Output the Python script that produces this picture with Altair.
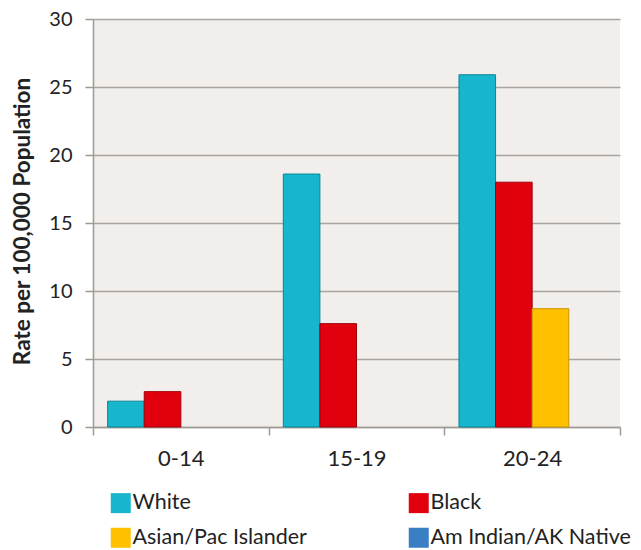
import altair as alt
import pandas as pd

groups = ["0-14", "15-19", "20-24"]
series = ["White", "Black", "Asian/Pac Islander", "Am Indian/AK Native"]
white = [1.9, 18.6, 25.9]
black = [2.6, 7.6, 18.0]
asian = [None, None, 8.7]
amind = [None, None, None]
y_ticks = [0, 5, 10, 15, 20, 25, 30]

colors = {"White": "#17b6cd", "Black": "#e0000e",
          "Asian/Pac Islander": "#ffc000", "Am Indian/AK Native": "#3a7ec4"}
strokes = {"White": "#0b8596", "Black": "#a0000a",
           "Asian/Pac Islander": "#c99500", "Am Indian/AK Native": "#245a95"}
# legend is filled column by column: this order gives rows White|Black, Asian|Am Indian
legend_order = ["White", "Asian/Pac Islander", "Black", "Am Indian/AK Native"]

rows = []
for s, vals in zip(series, [white, black, asian, amind]):
    for g, v in zip(groups, vals):
        if v is not None:
            rows.append({"group": g, "series": s, "rate": v})
df = pd.DataFrame(rows)

FONT = "Lato"
chart = alt.Chart(df).mark_bar(strokeWidth=1).encode(
    x=alt.X("group:N", sort=groups,
            scale=alt.Scale(domain=groups, paddingInner=0, paddingOuter=0),
            axis=alt.Axis(title=None, labelAngle=0, tickBand="extent",
                          domainColor="#a09a94", domainWidth=1.5,
                          tickColor="#a09a94", tickWidth=1.5, tickSize=8,
                          labelFontSize=22, labelFont=FONT, labelColor="#222222",
                          labelPadding=13)),
    xOffset=alt.XOffset("series:N", sort=series,
                        scale=alt.Scale(domain=series, paddingInner=0, paddingOuter=0.4)),
    y=alt.Y("rate:Q", scale=alt.Scale(domain=[0, 30]),
            axis=alt.Axis(values=y_ticks, title="Rate per 100,000 Population",
                          titleFont=FONT, titleFontSize=22.5, titleFontWeight="bold",
                          titleColor="#222222", titleAngle=-90,
                          titleX=-71, titleY=202, titleAlign="center", titleBaseline="middle",
                          labelFont=FONT, labelFontSize=20, labelColor="#222222",
                          labelPadding=13,
                          domainColor="#a09a94", domainWidth=1.5,
                          tickColor="#a09a94", tickWidth=1.5, tickSize=8,
                          gridColor="#aaa49e", gridWidth=1.5)),
    color=alt.Color("series:N",
                    scale=alt.Scale(domain=legend_order,
                                    range=[colors[s] for s in legend_order]),
                    legend=alt.Legend(title=None, orient="none", legendX=17, legendY=473,
                                      columns=2, columnPadding=101, rowPadding=12,
                                      symbolType="square", symbolSize=400,
                                      symbolStrokeWidth=0, labelOffset=1,
                                      labelFont=FONT, labelFontSize=21.5,
                                      labelColor="#222222", labelLimit=400)),
    stroke=alt.Stroke("series:N",
                      scale=alt.Scale(domain=legend_order,
                                      range=[strokes[s] for s in legend_order]),
                      legend=None),
).properties(
    width=527, height=408,
    padding={"left": 85, "top": 11, "right": 13, "bottom": 122},
    autosize=alt.AutoSizeParams(type="none"),
).configure_view(fill="#f1eeeb", strokeWidth=0)

chart.save("out.html", embed_options={"renderer": "svg", "actions": False})
